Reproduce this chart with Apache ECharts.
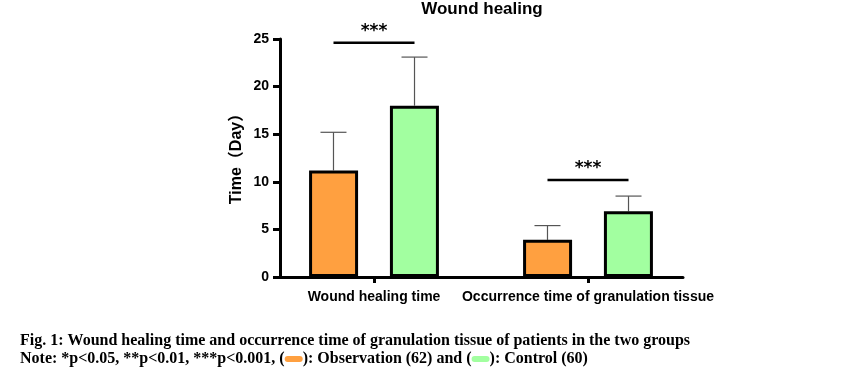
<!DOCTYPE html>
<html><head><meta charset="utf-8">
<script src="https://cdn.jsdelivr.net/npm/echarts@6/dist/echarts.min.js"></script>
<style>html,body{margin:0;padding:0;background:#fff}#c{width:849px;height:372px}</style>
</head><body><div id="c"></div>
<script>
const categories = ['Wound healing time', 'Occurrence time of granulation tissue'];
const observationMean = [11.2, 3.9];
const observationSD = [4.0, 1.5];
const controlMean = [18.0, 6.9];
const controlSD = [5.1, 1.6];
const yTicks = [0, 5, 10, 15, 20, 25];
const sigLabels = ['***', '***'];
const sigLevels = [24.6, 10.2];

const orange = '#FFA040';
const green = '#A2FFA0';
const font = '"Liberation Sans", Arial, sans-serif';
const serif = '"Liberation Serif", "Times New Roman", serif';

const chart = echarts.init(document.getElementById('c'));

function barOffset(api, sign) {
  const band = api.size([1, 0])[0];
  return sign * band * 0.1893;
}

function errorRender(means, sds, sign) {
  return function (params, api) {
    const i = api.value(0);
    const c0 = api.coord([i, means[i]]);
    const c1 = api.coord([i, means[i] + sds[i]]);
    const x = c0[0] + barOffset(api, sign);
    const cap = 13;
    return {
      type: 'group',
      children: [
        { type: 'line', shape: { x1: x, y1: c0[1], x2: x, y2: c1[1] }, style: { stroke: '#555', lineWidth: 1.2 } },
        { type: 'line', shape: { x1: x - cap, y1: c1[1], x2: x + cap, y2: c1[1] }, style: { stroke: '#555', lineWidth: 1.2 } }
      ]
    };
  };
}

function sigRender(params, api) {
  const i = api.value(0);
  const c = api.coord([i, sigLevels[i]]);
  const off = barOffset(api, 1);
  return {
    type: 'group',
    children: [
      { type: 'line', shape: { x1: c[0] - off, y1: c[1], x2: c[0] + off, y2: c[1] }, style: { stroke: '#000', lineWidth: 2.5 } },
      { type: 'text', x: c[0], y: c[1] - 3, style: { text: sigLabels[i], fill: '#000', font: 'bold 17px "DejaVu Sans", sans-serif', textAlign: 'center', textVerticalAlign: 'bottom' } }
    ]
  };
}

const idx = categories.map((_, i) => [i]);

chart.setOption({
  animation: false,
  grid: [
    { left: 267, width: 428, top: 39, bottom: 95 },
    { left: 280, width: 403, top: 39, bottom: 95 }
  ],
  xAxis: [
    {
      type: 'category', gridIndex: 0, data: categories,
      axisLine: { show: false },
      axisTick: { show: true, interval: 0, alignWithLabel: true, length: 6, lineStyle: { color: '#000', width: 3 } },
      axisLabel: { interval: 0, hideOverlap: false, color: '#000', fontFamily: font, fontWeight: 'bold', fontSize: 14, margin: 13 }
    },
    {
      type: 'value', gridIndex: 1, min: 0, max: 1,
      axisLine: { show: true, lineStyle: { color: '#000', width: 3 } },
      axisTick: { show: false }, axisLabel: { show: false }, splitLine: { show: false }
    }
  ],
  yAxis: [
    { type: 'value', gridIndex: 0, min: 0, max: 25, interval: 5, show: false, splitLine: { show: false } },
    {
      type: 'value', gridIndex: 1, min: yTicks[0], max: yTicks[yTicks.length - 1], interval: yTicks[1] - yTicks[0],
      name: 'Time（Day）', nameLocation: 'middle', nameGap: 35, nameRotate: 90,
      nameTextStyle: { color: '#000', fontFamily: font + ', "Noto Sans CJK SC"', fontWeight: 'bold', fontSize: 16, padding: [0, 0, 0, 6] },
      axisLine: { show: true, lineStyle: { color: '#000', width: 3 } },
      axisTick: { show: true, length: 7, lineStyle: { color: '#000', width: 3 } },
      axisLabel: { color: '#000', fontFamily: font, fontWeight: 'bold', fontSize: 14, margin: 11 },
      splitLine: { show: false }
    }
  ],
  series: [
    { type: 'bar', xAxisIndex: 0, yAxisIndex: 0, data: observationMean, barWidth: 49, barGap: '65%',
      itemStyle: { color: orange, borderColor: '#000', borderWidth: 3 }, z: 3 },
    { type: 'bar', xAxisIndex: 0, yAxisIndex: 0, data: controlMean, barWidth: 49, barGap: '65%',
      itemStyle: { color: green, borderColor: '#000', borderWidth: 3 }, z: 3 },
    { type: 'custom', xAxisIndex: 0, yAxisIndex: 0, data: idx, renderItem: errorRender(observationMean, observationSD, -1), z: 2 },
    { type: 'custom', xAxisIndex: 0, yAxisIndex: 0, data: idx, renderItem: errorRender(controlMean, controlSD, 1), z: 2 },
    { type: 'custom', xAxisIndex: 0, yAxisIndex: 0, data: idx, renderItem: sigRender, z: 4 }
  ],
  graphic: [
    { type: 'text', x: 482, y: 1,
      style: { text: 'Wound healing', fill: '#000', font: 'bold 17px ' + font, textAlign: 'center', textVerticalAlign: 'top' } },
    { type: 'text', left: 20, top: 333,
      style: { text: 'Fig. 1: Wound healing time and occurrence time of granulation tissue of patients in the two groups', fill: '#000', font: 'bold 16px ' + serif } },
    { type: 'text', left: 20, top: 351,
      style: {
        text: 'Note: *p<0.05, **p<0.01, ***p<0.001, ({o|}): Observation (62) and ({g|}): Control (60)',
        fill: '#000', font: 'bold 16px ' + serif,
        rich: {
          o: { backgroundColor: orange, width: 18, height: 6, borderRadius: 3 },
          g: { backgroundColor: green, width: 18, height: 6, borderRadius: 3 }
        }
      } }
  ]
});
</script></body></html>
